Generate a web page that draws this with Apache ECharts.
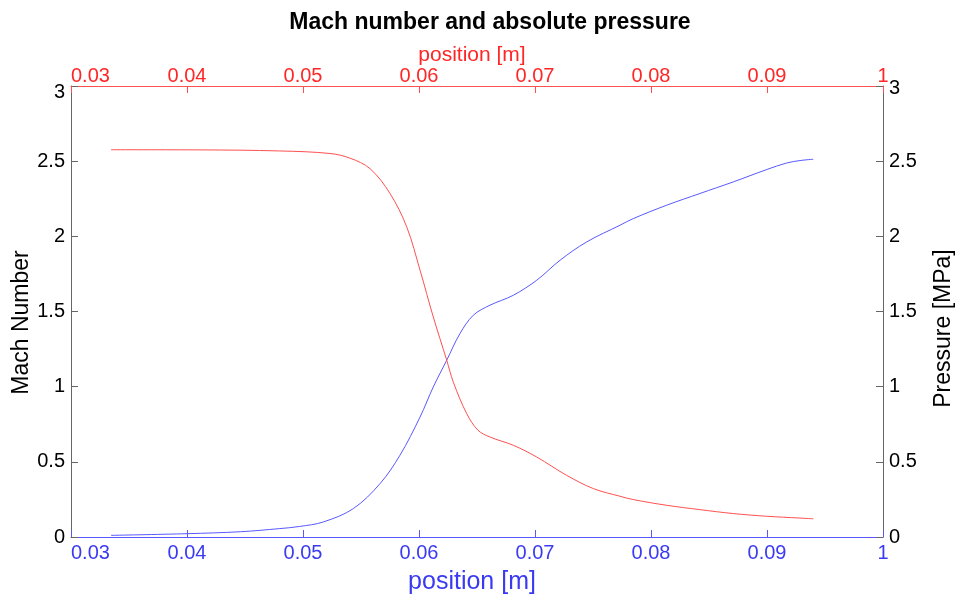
<!DOCTYPE html>
<html>
<head>
<meta charset="utf-8">
<script src="https://cdn.jsdelivr.net/npm/echarts@6/dist/echarts.min.js"></script>
<style>
  html, body { margin: 0; padding: 0; background: #fff; }
  #chart { width: 957px; height: 595px; }
</style>
</head>
<body>
<div id="chart"></div>
<script>
// ------------------------------
// DATA
// ------------------------------
const machPosition = [0.03345, 0.0400, 0.0446, 0.0480, 0.0497, 0.05175, 0.05434, 0.05664, 0.05836,
  0.06009, 0.06123, 0.06239, 0.06353, 0.06468, 0.06612, 0.06813, 0.07015, 0.07216, 0.07446,
  0.07733, 0.07847, 0.08135, 0.08422, 0.08709, 0.08997, 0.0917, 0.09284, 0.09399];
const machNumber = [0.011, 0.022, 0.035, 0.056, 0.07, 0.10, 0.189, 0.355, 0.544,
  0.798, 0.998, 1.176, 1.353, 1.475, 1.542, 1.608, 1.708, 1.841, 1.963,
  2.074, 2.118, 2.207, 2.285, 2.362, 2.444, 2.488, 2.504, 2.513];

const presPosition = [0.03345, 0.04112, 0.0480, 0.05233, 0.05405, 0.05578, 0.0575, 0.05894, 0.06009,
  0.06123, 0.06239, 0.06296, 0.06411, 0.06509, 0.06612, 0.06813, 0.07015, 0.07273, 0.07503,
  0.07733, 0.07847, 0.08135, 0.08422, 0.08709, 0.08997, 0.09284, 0.09399];
const pressure = [2.576, 2.575, 2.568, 2.551, 2.52, 2.45, 2.285, 2.063, 1.775,
  1.464, 1.176, 1.03, 0.821, 0.71, 0.665, 0.61, 0.532, 0.41, 0.322,
  0.271, 0.249, 0.211, 0.182, 0.156, 0.138, 0.126, 0.121];

// ------------------------------
// STYLE
// ------------------------------
const FONT = "'Liberation Sans', Arial, sans-serif";
const BLUE_TEXT = "#3a3af2";
const BLUE_LINE = "#5858ff";
const RED_TEXT = "#ff2626";
const RED_LINE = "#ff5050";
const GRAY = "#666";

let xLabel = v => (Math.abs(v - 0.1) < 1e-9 ? "1" : v.toFixed(2));

let xAxisBase = (color, textColor, position, name, nameSize, nameGap, margin, moveOverlap) => ({
  type: "value",
  position: position,
  min: 0.03,
  max: 0.1,
  interval: 0.01,
  name: name,
  nameLocation: "middle",
  nameGap: nameGap,
  nameMoveOverlap: moveOverlap,
  nameTextStyle: { color: textColor, fontSize: nameSize, fontFamily: FONT, padding: [0, 10, 0, 0] },
  axisLine: { show: true, onZero: false, lineStyle: { color: color, width: 1 } },
  axisTick: { show: true, inside: true, length: 7, lineStyle: { color: color } },
  axisLabel: {
    color: textColor, fontSize: 20, fontFamily: FONT, margin: margin,
    formatter: xLabel, alignMinLabel: "left"
  },
  splitLine: { show: false }
});

let yAxisBase = (position, name, nameGap, pad, topAlign) => ({
  type: "value",
  position: position,
  min: 0,
  max: 3,
  interval: 0.5,
  name: name,
  nameLocation: "middle",
  nameRotate: 90,
  nameGap: nameGap,
  nameMoveOverlap: false,
  nameTextStyle: { color: "#000", fontSize: 23, fontFamily: FONT, padding: [0, pad, 0, 0] },
  axisLine: { show: true, lineStyle: { color: GRAY, width: 1 } },
  axisTick: { show: true, inside: true, length: 7, lineStyle: { color: GRAY } },
  axisLabel: {
    color: "#000", fontSize: 20, fontFamily: FONT, margin: 6,
    formatter: v => (v === 3 ? "{top|3}" : String(v)),
    rich: { top: { color: "#000", fontSize: 20, fontFamily: FONT, padding: [topAlign, 0, 0, 0] } }
  },
  splitLine: { show: false }
});

const chart = echarts.init(document.getElementById("chart"));

chart.setOption({
  animation: false,
  backgroundColor: "#fff",
  title: {
    text: "Mach number and absolute pressure",
    left: 485,
    textAlign: "center",
    top: 6,
    textStyle: { fontSize: 23, fontWeight: "bold", color: "#000", fontFamily: FONT }
  },
  grid: { left: 71, right: 74, top: 86, bottom: 58, outerBoundsMode: "none" },
  xAxis: [
    xAxisBase(BLUE_LINE, BLUE_TEXT, "bottom", "position [m]", 25, 33, 6, true),
    xAxisBase(RED_LINE, RED_TEXT, "top", "position [m]", 21, 20, 0, false)
  ],
  yAxis: [
    yAxisBase("left", "Mach Number", 38, 22, 12),
    yAxisBase("right", "Pressure [MPa]", 49, 34, 4)
  ],
  series: [
    {
      type: "line",
      name: "Mach Number",
      xAxisIndex: 0,
      yAxisIndex: 0,
      data: machPosition.map((x, i) => [x, machNumber[i]]),
      smooth: 0.35,
      showSymbol: false,
      lineStyle: { color: BLUE_LINE, width: 1 }
    },
    {
      type: "line",
      name: "Pressure",
      xAxisIndex: 1,
      yAxisIndex: 1,
      data: presPosition.map((x, i) => [x, pressure[i]]),
      smooth: 0.35,
      showSymbol: false,
      lineStyle: { color: RED_LINE, width: 1 }
    }
  ]
});
</script>
</body>
</html>
